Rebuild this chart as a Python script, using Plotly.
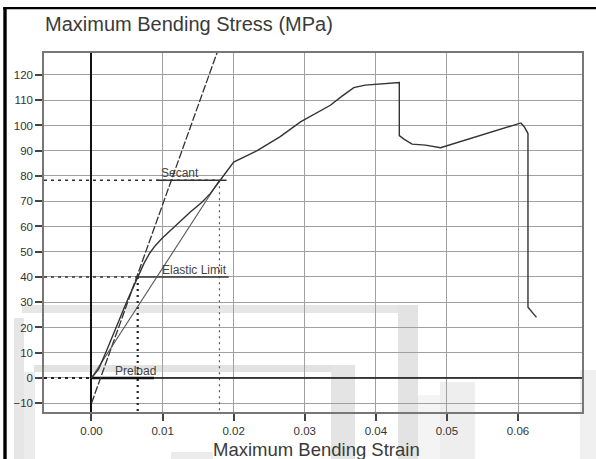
import plotly.graph_objects as go

# ---------------- data ----------------
curve_strain = [0.0, 0.001, 0.002, 0.003, 0.004, 0.005, 0.0058, 0.0066, 0.0074, 0.0082,
                0.009, 0.0099, 0.0115, 0.0139, 0.0155, 0.0167, 0.0181, 0.0192, 0.0200,
                0.0233, 0.0265, 0.0294, 0.0336, 0.0352, 0.0369, 0.0385, 0.0397, 0.0430,
                0.0433, 0.0433, 0.0440, 0.0451, 0.0470, 0.0491, 0.0530, 0.0570, 0.0604,
                0.0609, 0.0614, 0.0614, 0.0626]
curve_stress = [0.0, 3.5, 10.0, 17.0, 24.0, 30.5, 35.5, 40.5, 45.5, 49.5,
                52.5, 55.2, 59.5, 65.7, 69.5, 73.0, 78.3, 82.5, 85.5,
                90.0, 95.5, 101.4, 108.0, 111.5, 115.0, 116.0, 116.2, 116.8,
                117.0, 96.0, 94.5, 92.6, 92.2, 91.2, 94.5, 98.0, 101.0,
                99.4, 96.8, 28.0, 24.0]

tangent_strain = [0.0, 0.0185]
tangent_stress = [-10.0, 135.4]

secant_point = (0.0180, 78.3)
elastic_point = (0.0065, 40.0)
preload_point = (0.0, 0.0)

secant_label_span = [0.0092, 0.0190]
elastic_label_span = [0.0064, 0.0193]
preload_label_span = [0.0, 0.0088]

x_ticks = [0.0, 0.01, 0.02, 0.03, 0.04, 0.05, 0.06]
x_tick_text = ["0.00", "0.01", "0.02", "0.03", "0.04", "0.05", "0.06"]
y_ticks = [-10, 0, 10, 20, 30, 40, 50, 60, 70, 80, 90, 100, 110, 120]

x_title = "Maximum Bending Strain"
y_title = "Maximum Bending Stress (MPa)"

# ---------------- layout geometry ----------------
W, H = 596, 459
ML, MR, MT, MB = 44, 14, 53, 47
PW, PH = W - ML - MR, H - MT - MB
X_RANGE = [-0.00668, 0.0690]
Y_RANGE = [-13.47, 128.7]


def px(x):
    return (x - ML) / PW


def py(y):
    return (H - MB - y) / PH


FONT = "Liberation Sans, Arial, sans-serif"

fig = go.Figure()

# reference dotted lines
xl, yb = X_RANGE[0], Y_RANGE[0]
fig.add_trace(go.Scatter(x=[xl, secant_point[0]], y=[secant_point[1]] * 2, mode="lines",
                         line=dict(color="#333", width=1.6, dash="3px,4px"), hoverinfo="skip"))
fig.add_trace(go.Scatter(x=[secant_point[0]] * 2, y=[secant_point[1], yb], mode="lines",
                         line=dict(color="#555", width=1.2, dash="2px,4px"), hoverinfo="skip"))
fig.add_trace(go.Scatter(x=[xl, elastic_point[0]], y=[elastic_point[1]] * 2, mode="lines",
                         line=dict(color="#333", width=1.6, dash="3px,4px"), hoverinfo="skip"))
fig.add_trace(go.Scatter(x=[elastic_point[0]] * 2, y=[elastic_point[1], yb], mode="lines",
                         line=dict(color="#222", width=2.2, dash="2px,4px"), hoverinfo="skip"))
fig.add_trace(go.Scatter(x=[xl, preload_point[0]], y=[preload_point[1]] * 2, mode="lines",
                         line=dict(color="#222", width=2, dash="3px,4px"), hoverinfo="skip"))
# zero stress line (solid right of origin)
fig.add_trace(go.Scatter(x=[preload_point[0], X_RANGE[1]], y=[0, 0], mode="lines",
                         line=dict(color="#111", width=1.6), hoverinfo="skip"))

# label underlines
fig.add_trace(go.Scatter(x=secant_label_span, y=[secant_point[1]] * 2, mode="lines",
                         line=dict(color="#333", width=1.5), hoverinfo="skip"))
fig.add_trace(go.Scatter(x=elastic_label_span, y=[elastic_point[1]] * 2, mode="lines",
                         line=dict(color="#333", width=1.5), hoverinfo="skip"))
fig.add_trace(go.Scatter(x=preload_label_span, y=[preload_point[1]] * 2, mode="lines",
                         line=dict(color="#111", width=2.6), hoverinfo="skip"))

# tangent line
fig.add_trace(go.Scatter(x=tangent_strain, y=tangent_stress, mode="lines",
                         line=dict(color="#333", width=1.3, dash="8px,2px"), hoverinfo="skip"))
# secant line
fig.add_trace(go.Scatter(x=[preload_point[0], secant_point[0]], y=[preload_point[1], secant_point[1]],
                         mode="lines", line=dict(color="#555", width=1.1), hoverinfo="skip"))
# main curve
fig.add_trace(go.Scatter(x=curve_strain, y=curve_stress, mode="lines",
                         line=dict(color="#333", width=1.4), hoverinfo="skip"))


# labels
def label(text, x, y):
    fig.add_annotation(x=x, y=y, text=text, showarrow=False, xanchor="left", yanchor="bottom",
                       font=dict(family=FONT, size=12, color="#444"), xshift=2, yshift=-2)


label("Secant", secant_label_span[0], secant_point[1])
label("Elastic Limit", elastic_label_span[0] + 0.003, elastic_point[1])
label("Preload", preload_label_span[0] + 0.0027, preload_point[1])

# titles
fig.add_annotation(xref="paper", yref="paper", x=px(43), y=py(24), text=y_title, showarrow=False,
                   xanchor="left", yanchor="middle", font=dict(family=FONT, size=20, color="#3a3a3a"))
fig.add_annotation(xref="paper", yref="paper", x=px(316), y=py(449), text=x_title, showarrow=False,
                   xanchor="center", yanchor="middle", font=dict(family=FONT, size=18.5, color="#3a3a3a"))

# watermark shapes (light grey)
wm = [
    (22, 305, 400, 313, "#e6e6e6"),
    (398, 305, 418, 459, "#e3e3e3"),
    (14, 318, 24, 459, "#e6e6e6"),
    (34, 365, 340, 372, "#e2e2e2"),
    (331, 365, 355, 459, "#e4e4e4"),
    (24, 372, 35, 459, "#ececec"),
    (440, 382, 475, 459, "#eeeeee"),
    (418, 395, 440, 459, "#f4f4f4"),
    (580, 370, 596, 459, "#f0f0f0"),
    (171, 452, 213, 459, "#ececec"),
]
for x0, y0, x1, y1, c in wm:
    fig.add_shape(type="rect", xref="paper", yref="paper", x0=px(x0), x1=px(x1), y0=py(y0), y1=py(y1),
                  fillcolor=c, line=dict(width=0), layer="below")

# black frame (top and left)
fig.add_shape(type="rect", xref="paper", yref="paper", x0=px(3.3), x1=px(600), y0=py(9.3), y1=py(7),
              fillcolor="black", line=dict(width=0))
fig.add_shape(type="rect", xref="paper", yref="paper", x0=px(3.3), x1=px(6.7), y0=py(470), y1=py(7),
              fillcolor="black", line=dict(width=0))

axis_common = dict(showgrid=True, gridcolor="#a0a0a0", gridwidth=1.4, showline=True, mirror=True,
                   linecolor="#777", linewidth=1.5, ticks="outside", tickcolor="#444", tickwidth=1.5,
                   tickfont=dict(family=FONT, size=11.5, color="#333"))

fig.update_xaxes(range=X_RANGE, tickvals=x_ticks, ticktext=x_tick_text, ticklen=7,
                 zeroline=True, zerolinecolor="#111", zerolinewidth=2, **axis_common)
fig.update_yaxes(range=Y_RANGE, tickvals=y_ticks, ticklen=7, zeroline=False, **axis_common)

fig.update_layout(width=W, height=H, margin=dict(l=ML, r=MR, t=MT, b=MB, autoexpand=False),
                  paper_bgcolor="white", plot_bgcolor="rgba(0,0,0,0)", showlegend=False)

fig.write_html("out.html")
